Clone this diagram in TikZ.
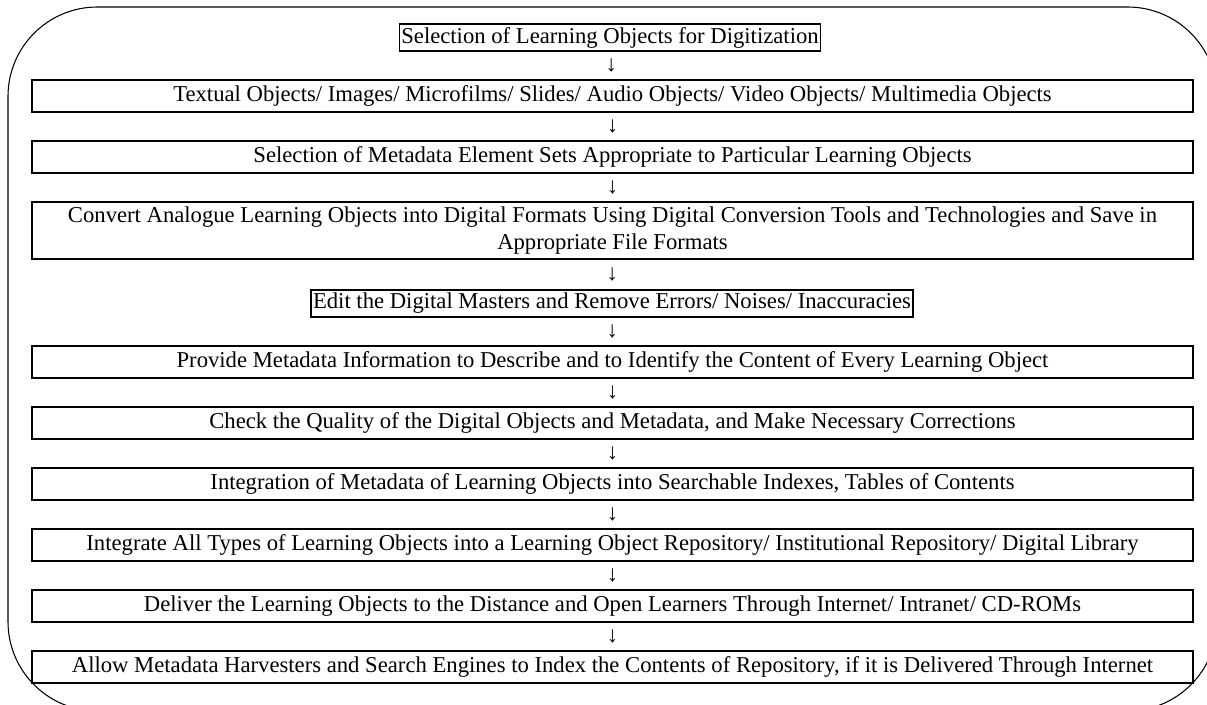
\documentclass[tikz,border=0pt]{standalone}
\usepackage{fontspec}
\setmainfont{Liberation Serif}
\usetikzlibrary{calc}
\begin{document}
\begin{tikzpicture}[x=0.75pt,y=-0.75pt,
  txt/.style={font=\fontsize{17}{20}\selectfont},
  wide/.style={txt,draw,line width=1.1pt,minimum width=870.75pt,minimum height=24pt,inner sep=0pt,align=center},
  tight/.style={txt,draw,line width=1.1pt,minimum height=20.25pt,inner xsep=1.5pt,inner ysep=0pt},
  arr/.style={txt,inner sep=0pt}]
\clip (0,0) rectangle (1207,704);
\useasboundingbox (0,0) rectangle (1207,704);
\draw[line width=0.8pt,rounded corners=67pt] (8,7) rectangle (1217,711);
\node[tight] (b1) at (610,37.5) {Selection of Learning Objects for Digitization};
\node[wide] (b2) at (612.5,96) {Textual Objects/ Images/ Microfilms/ Slides/ Audio Objects/ Video Objects/ Multimedia Objects};
\node[wide] (b3) at (612.5,157) {Selection of Metadata Element Sets Appropriate to Particular Learning Objects};
\node[wide,minimum height=42.75pt] (b4) at (612.5,230.5) {Convert Analogue Learning Objects into Digital Formats Using Digital Conversion Tools and Technologies and Save in\\Appropriate File Formats};
\node[tight] (b5) at (612,303.5) {Edit the Digital Masters and Remove Errors/ Noises/ Inaccuracies};
\node[wide] (b6) at (612.5,362) {Provide Metadata Information to Describe and to Identify the Content of Every Learning Object};
\node[wide] (b7) at (612.5,423) {Check the Quality of the Digital Objects and Metadata, and Make Necessary Corrections};
\node[wide] (b8) at (612.5,484) {Integration of Metadata of Learning Objects into Searchable Indexes, Tables of Contents};
\node[wide] (b9) at (612.5,545) {Integrate All Types of Learning Objects into a Learning Object Repository/ Institutional Repository/ Digital Library};
\node[wide] (b10) at (612.5,606) {Deliver the Learning Objects to the Distance and Open Learners Through Internet/ Intranet/ CD-ROMs};
\node[wide] (b11) at (612.5,667) {Allow Metadata Harvesters and Search Engines to Index the Contents of Repository, if it is Delivered Through Internet};
\foreach \i/\j in {1/2,2/3,3/4,4/5,5/6,6/7,7/8,8/9,9/10,10/11}{
  \node[arr] (a\i) at ($(b\i.south)!0.5!(b\j.north)$) {↓};
}
\end{tikzpicture}
\end{document}
